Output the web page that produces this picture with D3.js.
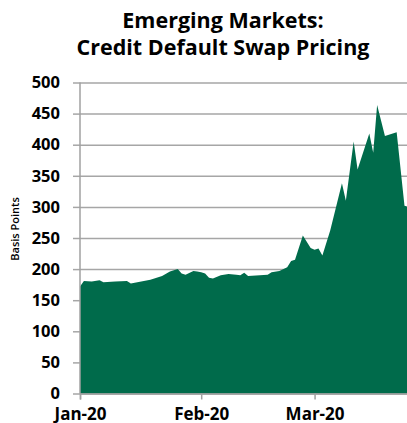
<!DOCTYPE html>
<html>
<head>
<meta charset="utf-8">
<script src="https://cdn.jsdelivr.net/npm/d3@7"></script>
<style>
	body { margin: 0; background: #fff; }
	text { font-family: "Open Sans", sans-serif; fill: #000; }
</style>
</head>
<body>
<svg id="chart" width="407" height="423"></svg>
<script>

var dates = ["2020-01-01", "2020-01-02", "2020-01-04", "2020-01-06", "2020-01-07", "2020-01-10",
	"2020-01-13", "2020-01-14", "2020-01-19", "2020-01-22", "2020-01-24", "2020-01-26",
	"2020-01-27", "2020-01-28", "2020-01-30", "2020-01-31", "2020-02-01", "2020-02-02",
	"2020-02-03", "2020-02-04", "2020-02-06", "2020-02-08", "2020-02-10", "2020-02-11",
	"2020-02-12", "2020-02-13", "2020-02-18", "2020-02-19", "2020-02-21", "2020-02-23",
	"2020-02-24", "2020-02-25", "2020-02-27", "2020-02-29", "2020-03-01", "2020-03-02",
	"2020-03-03", "2020-03-05", "2020-03-08", "2020-03-09", "2020-03-11", "2020-03-12",
	"2020-03-15", "2020-03-16", "2020-03-17", "2020-03-19", "2020-03-22", "2020-03-24",
	"2020-03-25"];

var spread = [172, 181, 180, 182, 179, 180,
	181, 177, 183, 189, 196, 200,
	193, 191, 197, 196, 195, 193,
	186, 185, 190, 192, 191, 190,
	194, 189, 191, 195, 197, 203,
	213, 215, 254, 234, 231, 233,
	222, 262, 338, 310, 405, 360,
	418, 387, 464, 414, 420, 302,
	300];

var yTicks = [0, 50, 100, 150, 200, 250, 300, 350, 400, 450, 500];
var xTicks = ["2020-01-01", "2020-02-01", "2020-03-01"];
var titleLines = ["Emerging Markets:", "Credit Default Swap Pricing"];

var parse = d3.timeParse("%Y-%m-%d");
var data = dates.map(function(d, i){ return {date: parse(d), value: spread[i]}; });

var svg = d3.select("#chart");
var plotLeft = 80, plotRight = 408.4, plotTop = 82.5, plotBottom = 393.5;

var x = d3.scaleTime()
	.domain([parse("2020-01-01"), parse("2020-03-25")])
	.range([plotLeft, plotRight]);

var y = d3.scaleLinear()
	.domain([0, 500])
	.range([plotBottom, plotTop]);

// title
svg.selectAll(".title")
	.data(titleLines)
	.enter().append("text")
	.attr("class", "title")
	.attr("x", 223)
	.attr("y", function(d, i){ return 28 + i * 27; })
	.attr("text-anchor", "middle")
	.style("font-size", "21.5px")
	.style("font-weight", "bold")
	.text(function(d){ return d; });

// gridlines
svg.append("g")
	.attr("transform", "translate(" + plotLeft + ",0)")
	.call(d3.axisLeft(y).tickValues(yTicks).tickSize(-(407 - plotLeft)).tickFormat(""))
	.call(function(g){
		g.select(".domain").remove();
		g.selectAll("line").attr("stroke", "#a6a6a6").attr("stroke-width", 1.5);
	});

// y tick marks + labels
svg.append("g")
	.attr("transform", "translate(" + plotLeft + ",0)")
	.call(d3.axisLeft(y).tickValues(yTicks).tickSize(7).tickPadding(13))
	.call(function(g){
		g.select(".domain").remove();
		g.selectAll("line").attr("stroke", "#a6a6a6").attr("stroke-width", 1.5);
		g.selectAll("text").style("font-size", "16.5px").style("font-weight", "bold")
			.style("font-family", "'Open Sans', sans-serif").attr("fill", "#000");
	});

var area = d3.area()
	.x(function(d){ return x(d.date); })
	.y0(y(0))
	.y1(function(d){ return y(d.value); });

svg.append("path")
	.datum(data)
	.attr("d", area)
	.attr("fill", "#006b4b");

// axis lines
svg.append("line")
	.attr("x1", plotLeft).attr("x2", plotLeft)
	.attr("y1", plotTop).attr("y2", plotBottom)
	.attr("stroke", "#a0a0a0").attr("stroke-width", 1.5);

svg.append("g")
	.attr("transform", "translate(0," + plotBottom + ")")
	.call(d3.axisBottom(x).tickValues(xTicks.map(parse)).tickSize(6).tickPadding(8)
		.tickFormat(d3.timeFormat("%b-%y")))
	.call(function(g){
		g.select(".domain").attr("stroke", "#a0a0a0").attr("stroke-width", 1.5);
		g.selectAll("line").attr("stroke", "#a0a0a0").attr("stroke-width", 1.5);
		g.selectAll("text").style("font-size", "17px").style("font-weight", "bold")
			.style("font-family", "'Open Sans', sans-serif").attr("fill", "#000");
	});

svg.append("text")
	.attr("transform", "translate(19,229) rotate(-90)")
	.attr("text-anchor", "middle")
	.style("font-size", "11px")
	.style("font-weight", "600")
	.text("Basis Points");

</script>
</body>
</html>
